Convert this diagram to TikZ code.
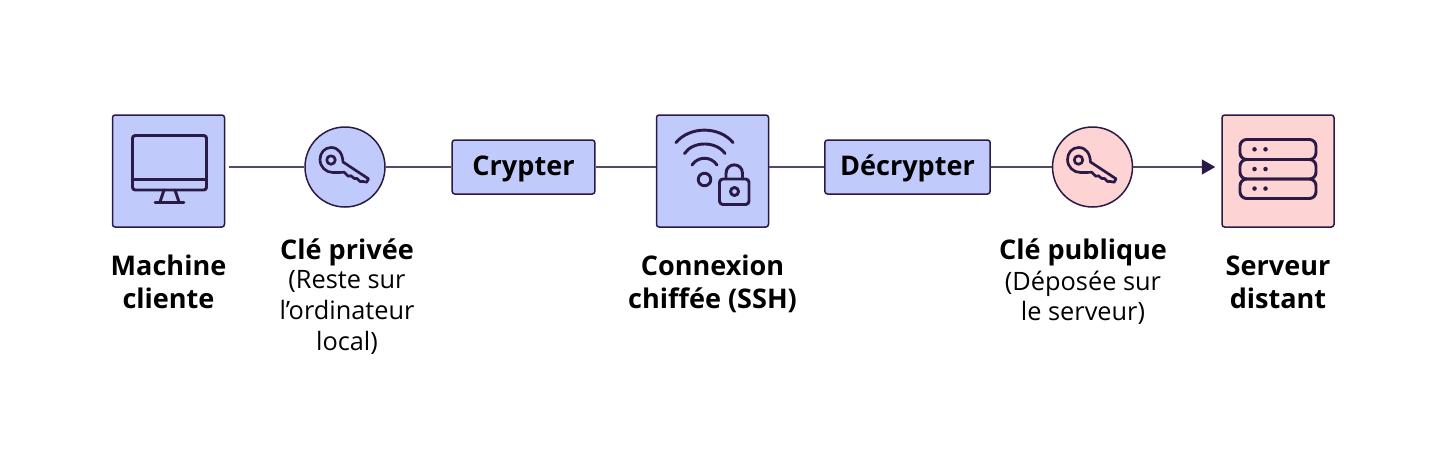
\documentclass[tikz,border=0pt]{standalone}
\usepackage{fontspec}
\setmainfont{Open Sans}
\usetikzlibrary{arrows.meta}
\definecolor{inkdark}{HTML}{2A1A45}
\definecolor{linkgray}{HTML}{54486B}
\definecolor{bluefill}{HTML}{C1CBFB}
\definecolor{pinkfill}{HTML}{FDD3D3}
\tikzset{
  bigbox/.style={draw=inkdark,line width=1.5pt*0.75,rounded corners=2pt,minimum width=84pt,minimum height=84pt,inner sep=0pt},
  txtbox/.style={draw=inkdark,line width=1.5pt*0.75,fill=bluefill,rounded corners=2pt,minimum height=40.5pt,inner sep=0pt,text height=14pt,text depth=1.4pt,font=\fontsize{20.3pt}{23pt}\selectfont\bfseries},
  keyring/.style={circle,draw=inkdark,line width=1.5pt*0.75,minimum size=60pt,inner sep=0pt},
  link/.style={draw=linkgray,line width=1.5pt},
  icon/.style={draw=inkdark,line width=2.2pt,line cap=round,line join=round},
  title/.style={align=center,font=\fontsize{20.3pt}{24.5pt}\selectfont\bfseries,inner sep=0pt},
  subtitle/.style={align=center,font=\fontsize{19pt}{23pt}\selectfont,inner sep=0pt},
  keyicon/.pic={
    \draw[icon,line width=2pt] (-2,-5) .. controls (-2.5,-13) and (-6,-19.5) .. (-14,-19.5)
      .. controls (-20.5,-19.5) and (-25,-14) .. (-25,-7.5) .. controls (-25,0) and (-19,5.5) .. (-12,5.5)
      .. controls (-8,5.5) and (-4,5.5) .. (-0.7,5.2) -- (3.3,9.2) -- (6,8.8) -- (9.3,11.5) -- (12,11.5)
      -- (15,14.5) -- (18,14.5) -- (21.7,15.2) -- (23.5,11.8) -- cycle;
    \draw[icon,line width=2pt] (-14,-7) circle[radius=3.2pt];
  }
}
\begin{document}
\begin{tikzpicture}[x=0.75pt,y=-0.75pt]
  \useasboundingbox (0,0) rectangle (1448,465);
  \node[bigbox,fill=bluefill] (machine) at (168.5,171) {};
  \node[keyring,fill=bluefill] (clepriv) at (345,167) {};
  \node[txtbox,minimum width=107pt] (crypter) at (523.5,167) {Crypter};
  \node[bigbox,fill=bluefill] (connexion) at (712.5,171) {};
  \node[txtbox,minimum width=124pt] (decrypter) at (907.5,167) {Décrypter};
  \node[keyring,fill=pinkfill] (clepub) at (1092.5,167) {};
  \node[bigbox,fill=pinkfill] (serveur) at (1278,171) {};

  \draw[link,shorten <=3pt] (machine.east |- clepriv.west) -- (clepriv.west);
  \draw[link] (clepriv.east) -- (crypter.west);
  \draw[link] (crypter.east) -- (connexion.west |- crypter.east);
  \draw[link] (connexion.east |- decrypter.west) -- (decrypter.west);
  \draw[link] (decrypter.east) -- (clepub.west);
  \draw[link,shorten >=4.5pt,-{Triangle[length=10pt,width=11pt,fill=inkdark,color=inkdark]}] (clepub.east) -- (serveur.west |- clepub.east);

  % monitor
  \draw[icon,rounded corners=2pt] (132.5,135.5) rectangle (206.5,190);
  \draw[icon] (132.5,179.5) -- (206.5,179.5);
  \draw[icon] (164,190) -- (160,202) (175,190) -- (179,202) (155,202.5) -- (184,202.5);

  % keys
  \pic at (clepriv) {keyicon};
  \pic at (clepub) {keyicon};

  % wifi and lock
  \draw[icon] (676,142.5) .. controls (690,126) and (719,126) .. (733,142.5);
  \draw[icon] (684.5,153.5) .. controls (693,140.8) and (716,140.8) .. (725,153.5);
  \draw[icon] (692,165) .. controls (698,156) and (711,156) .. (717,165);
  \draw[icon] (704.5,179.5) circle[radius=4.7pt];
  \draw[icon,rounded corners=2.5pt] (719.5,179) rectangle (749,204.5);
  \draw[icon] (726,179) -- (726,173.5) .. controls (726,162) and (742.5,162) .. (742.5,173.5) -- (742.5,179);
  \draw[icon] (734.5,191.5) circle[radius=3pt];

  % server
  \foreach \ya/\yb in {139.5/159.5,159.5/179,179/198.5} {
    \draw[icon,rounded corners=5pt] (1240,\ya) rectangle (1316,\yb);
    \fill[inkdark] (1254.5,{(\ya+\yb)/2-0.2}) circle[radius=1.7pt] (1265.5,{(\ya+\yb)/2-0.2}) circle[radius=1.7pt];
  }

  % labels
  \node[title] (lblmachine) at (168.5,282) {Machine\\cliente};
  \node[title] (lblpriv) at (347,252.5) {Clé privée};
  \node[subtitle,anchor=north] (subpriv) at (347,270.5) {(Reste sur\\l’ordinateur\\local)};
  \node[title] (lblconn) at (712.5,284) {Connexion\\chiffée (SSH)};
  \node[title] (lblpub) at (1083,252.5) {Clé publique};
  \node[subtitle,anchor=north] (subpub) at (1083,270.5) {(Déposée sur\\le serveur)};
  \node[title] (lblserveur) at (1278,282) {Serveur\\distant};
\end{tikzpicture}
\end{document}
